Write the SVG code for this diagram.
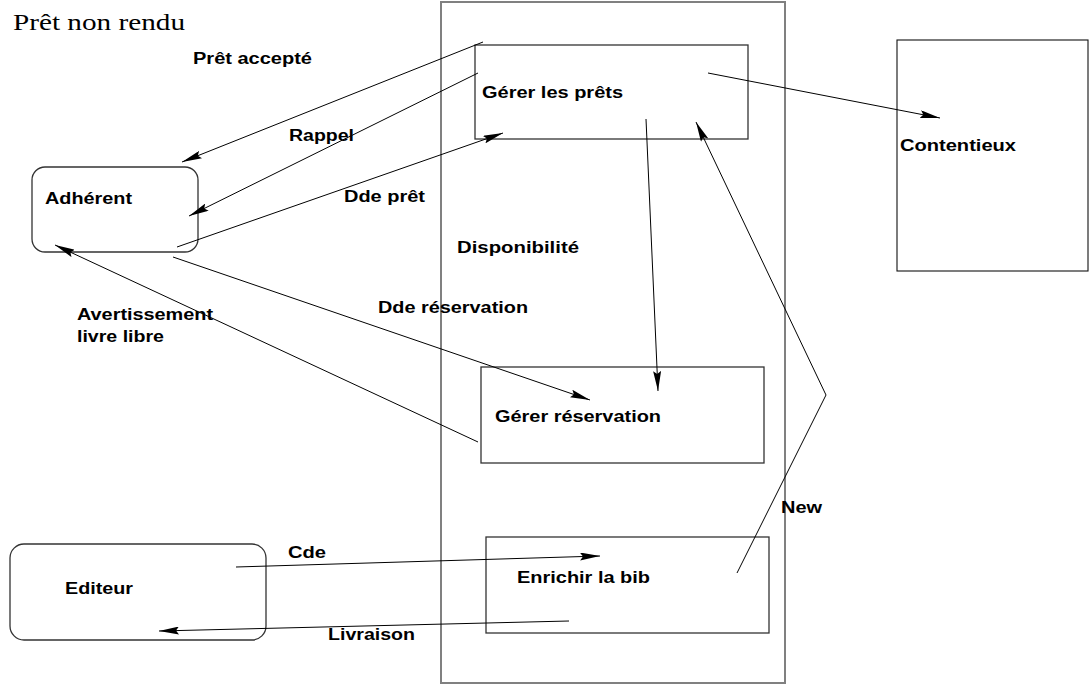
<svg xmlns="http://www.w3.org/2000/svg" width="1090" height="686" viewBox="0 0 1090 686">
<style>
.box{fill:none;stroke:#333;stroke-width:1.3}
.outer{fill:none;stroke:#808080;stroke-width:2}
.ctn{fill:none;stroke:#111;stroke-width:1.1}
.lbl{font-family:"Liberation Sans",Arial,sans-serif;font-weight:bold;font-size:16px;fill:#000}
.title{font-family:"Liberation Serif","Times New Roman",serif;font-size:24px;fill:#000}
.con{fill:none;stroke:#000;stroke-width:1;marker-end:url(#ah)}
.con2{fill:none;stroke:#000;stroke-width:1}
</style>
<defs>
<marker id="ah" viewBox="0 0 20 8" refX="20" refY="4" markerWidth="20" markerHeight="8" markerUnits="userSpaceOnUse" orient="auto">
<path d="M0,0 L20,4 L0,8 L3,4 z" fill="#000"/>
</marker>
</defs>
<rect width="1090" height="686" fill="#fff"/>
<text class="title" x="13" y="30" textLength="172" lengthAdjust="spacingAndGlyphs">Prêt non rendu</text>

<g id="systeme">
<rect class="outer" x="441" y="2" width="344" height="681"/>
</g>
<g id="gerer-prets">
<rect class="box" x="475" y="45" width="273" height="94"/>
<text class="lbl" x="482" y="98" textLength="141" lengthAdjust="spacingAndGlyphs">Gérer les prêts</text>
</g>
<g id="gerer-reservation">
<rect class="box" x="481" y="367" width="283" height="96"/>
<text class="lbl" x="495" y="422" textLength="166" lengthAdjust="spacingAndGlyphs">Gérer réservation</text>
</g>
<g id="enrichir">
<rect class="box" x="486" y="537" width="283" height="96"/>
<text class="lbl" x="517" y="583" textLength="133" lengthAdjust="spacingAndGlyphs">Enrichir la bib</text>
</g>
<g id="contentieux">
<rect class="ctn" x="897" y="40" width="191" height="231"/>
<text class="lbl" x="900" y="151" textLength="116" lengthAdjust="spacingAndGlyphs">Contentieux</text>
</g>
<g id="adherent">
<rect class="box" x="32" y="167" width="166" height="85" rx="13" ry="13"/>
<text class="lbl" x="45" y="204" textLength="87" lengthAdjust="spacingAndGlyphs">Adhérent</text>
</g>
<g id="editeur">
<rect class="box" x="10" y="544" width="256" height="96" rx="14" ry="14"/>
<text class="lbl" x="65" y="594" textLength="68" lengthAdjust="spacingAndGlyphs">Editeur</text>
</g>

<g id="connectors">
<line class="con" x1="483" y1="42" x2="182" y2="162"/>
<line class="con" x1="478" y1="73" x2="189" y2="216"/>
<line class="con" x1="177" y1="247" x2="503" y2="133"/>
<line class="con" x1="708" y1="73" x2="940" y2="118"/>
<line class="con" x1="646" y1="119" x2="658" y2="391"/>
<polyline class="con" points="737,573 826,395 696,122"/>
<line class="con" x1="173" y1="257" x2="590" y2="400"/>
<line class="con" x1="478" y1="442" x2="55" y2="245"/>
<line class="con" x1="236" y1="567" x2="600" y2="556"/>
<line class="con" x1="569" y1="621" x2="159" y2="631"/>
</g>

<g id="labels">
<text class="lbl" x="193" y="64" textLength="119" lengthAdjust="spacingAndGlyphs">Prêt accepté</text>
<text class="lbl" x="289" y="141" textLength="65" lengthAdjust="spacingAndGlyphs">Rappel</text>
<text class="lbl" x="344" y="202" textLength="81" lengthAdjust="spacingAndGlyphs">Dde prêt</text>
<text class="lbl" x="457" y="253" textLength="122" lengthAdjust="spacingAndGlyphs">Disponibilité</text>
<text class="lbl" x="378" y="313" textLength="150" lengthAdjust="spacingAndGlyphs">Dde réservation</text>
<text class="lbl" x="77" y="320" textLength="136" lengthAdjust="spacingAndGlyphs">Avertissement</text>
<text class="lbl" x="77" y="342" textLength="87" lengthAdjust="spacingAndGlyphs">livre libre</text>
<text class="lbl" x="781" y="513" textLength="41" lengthAdjust="spacingAndGlyphs">New</text>
<text class="lbl" x="288" y="558" textLength="38" lengthAdjust="spacingAndGlyphs">Cde</text>
<text class="lbl" x="328" y="640" textLength="87" lengthAdjust="spacingAndGlyphs">Livraison</text>
</g>
</svg>
